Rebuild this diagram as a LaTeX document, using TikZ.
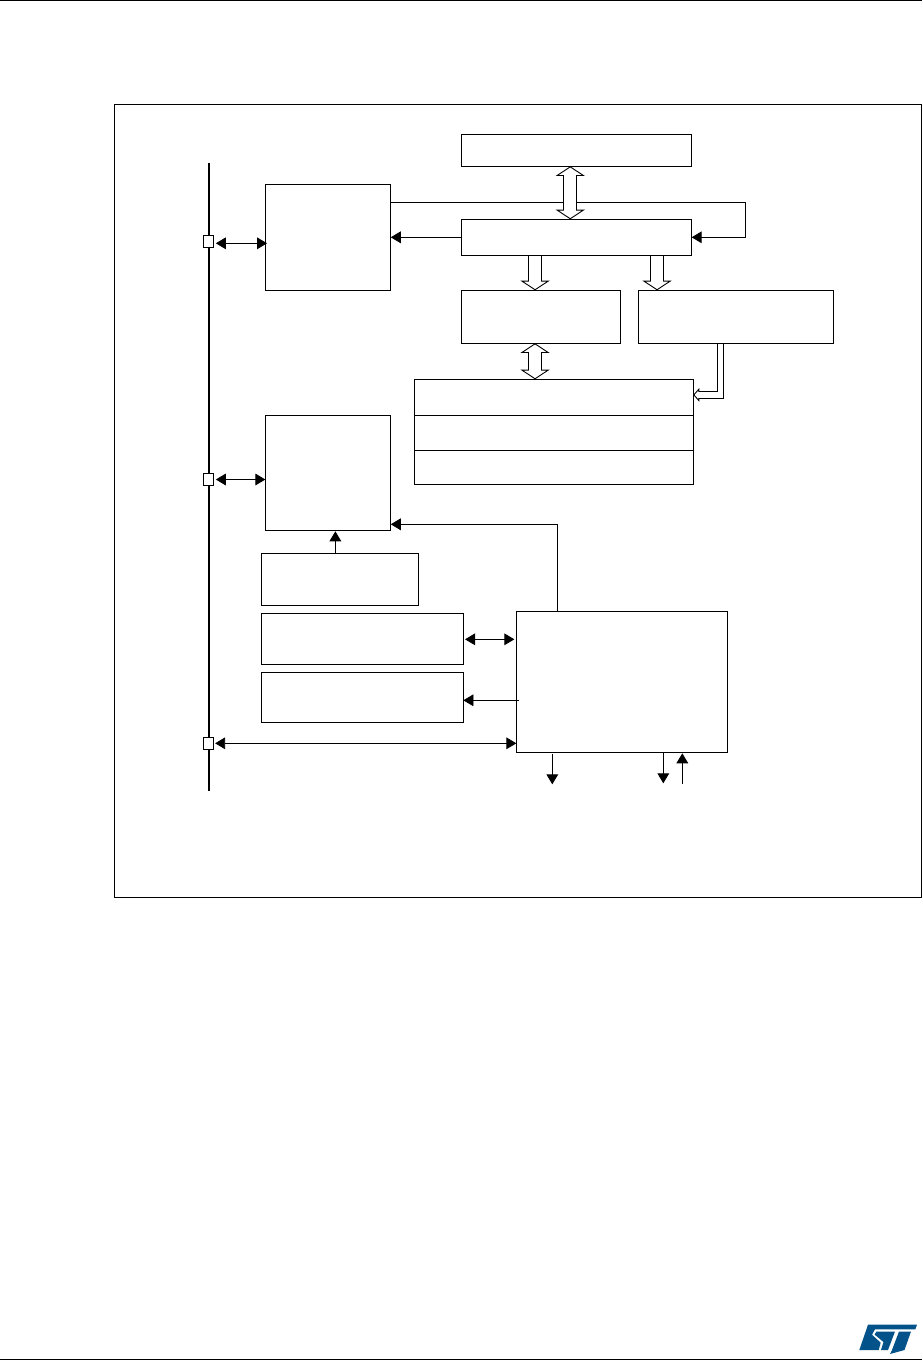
\documentclass[tikz,border=0pt]{standalone}
\usepackage{xcolor}
\usetikzlibrary{arrows.meta, positioning, calc}
\definecolor{logoblue}{HTML}{03528A}

\begin{document}
\begin{tikzpicture}[
  x=1pt, y=-1pt,
  box/.style={draw, line width=0.9pt, inner sep=0pt, outer sep=0pt, fill=white},
  wh/.style 2 args={minimum width=#1pt, minimum height=#2pt},
  pad/.style={box, wh={10.5}{12.2}},
  arr/.style={line width=0.9pt, -{Triangle[length=10pt,width=11.7pt]}},
  biarr/.style={line width=0.9pt, {Triangle[length=10pt,width=11.7pt]}-{Triangle[length=10pt,width=11.7pt]}},
  hollow/.style={line width=13.9pt, -{Triangle[fill=white,length=9.6pt,width=29pt,line width=0.9pt]},
                 postaction={draw=white, line width=12.1pt, -, shorten <=0.45pt, shorten >=6.5pt}},
  bihollow/.style={line width=13.9pt,
                 {Triangle[fill=white,length=9.6pt,width=29pt,line width=0.9pt]}-{Triangle[fill=white,length=9.6pt,width=29pt,line width=0.9pt]},
                 postaction={draw=white, line width=12.1pt, -, shorten <=6.5pt, shorten >=6.5pt}},
  benthollow/.style={line width=7.4pt, -{Triangle[fill=white,length=6pt,width=13.5pt,line width=0.9pt]},
                 postaction={draw=white, line width=5.6pt, -, shorten <=0.45pt, shorten >=4pt}},
]
\useasboundingbox (0,0) rectangle (922,1361);
% page rules
\draw[line width=1.1pt] (0,0.5) -- (922,0.5);
\draw[line width=1.2pt] (0,1359.4) -- (922,1359.4);

\node[box, wh={807.4}{793}] (frame) at (518,500.8) {};

% bus
\coordinate (bustop) at (209,163);
\coordinate (busbot) at (209,790.7);
\draw[line width=2pt] (bustop) -- (busbot);
\node[pad] (pada) at (208.6,241.3) {};
\node[pad] (padb) at (208.6,479.5) {};
\node[pad] (padc) at (208.6,743.3) {};

% upper blocks
\node[box, wh={230.6}{32.3}] (mem) at (576.35,150.15) {};
\node[box, wh={230.6}{36}, below=53pt of mem] (ctrl) {};
\node[box, wh={125.4}{106}, left=70.3pt of ctrl] (upperleft) {};
\node[box, wh={159.3}{53}, below right=35pt and 0pt of ctrl.south west] (midleft) {};
\node[box, wh={195.4}{53}, right=18pt of midleft] (midright) {};
\node[box, wh={279}{35.7}, below right=36pt and -46.8pt of midleft.south west] (stacka) {};
\node[box, wh={279}{35}, below=0pt of stacka] (stackb) {};
\node[box, wh={279}{34}, below=0pt of stackb] (stackc) {};

% lower blocks
\node[box, wh={125.4}{115.3}, below=124.7pt of upperleft] (lowerleft) {};
\node[box, wh={157.4}{52}, below right=23pt and -4pt of lowerleft.south west] (blocke) {};
\node[box, wh={202}{51}, below right=8pt and 0pt of blocke.south west] (blockf) {};
\node[box, wh={202}{50}, below right=8pt and 0pt of blockf.south west] (blockg) {};
\node[box, wh={211}{141}, below right=-2pt and 53pt of blockf.north east] (core) {};

% free ends below the core
\coordinate (outa) at (552.3,784.3);
\coordinate (outb) at (663.3,783.3);
\coordinate (ina) at (682.3,783.7);

% hollow connectors
\draw[arr] ([yshift=35pt]upperleft.east) -- ++(355,0) |- (ctrl.east);
\draw[bihollow] ([xshift=-6.1pt]mem.south) -- ([xshift=-6.1pt]ctrl.north);
\draw[hollow] ([xshift=-5.65pt]midleft.north |- ctrl.south) -- ([xshift=-5.65pt]midleft.north);
\draw[hollow] ([xshift=-79pt]midright.north |- ctrl.south) -- ([xshift=-79pt]midright.north);
\draw[bihollow] ([xshift=-5.65pt]midleft.south) -- ([xshift=-5.65pt]midleft.south |- stacka.north);
\draw[benthollow] ([xshift=-15.5pt]midright.south) |- ([yshift=2.3pt]stacka.east);

% plain connectors
\draw[arr] (ctrl.west) -- (upperleft.east |- ctrl.west);
\draw[biarr, shorten <=2pt, shorten >=-1.7pt] ([yshift=-2pt]pada.east) -- (upperleft.west |- 0,243.3);
\draw[biarr, shorten <=2pt] (padb.east) -- (lowerleft.west |- padb.east);
\draw[biarr, shorten <=1.3pt] (padc.east) -- (core.west |- padc.east);
\draw[arr] ([xshift=-4.7pt]blocke.north) -- ([xshift=-4.7pt,yshift=-1pt]blocke.north |- lowerleft.south);
\draw[arr] ([xshift=-64.5pt]core.north) |- ([yshift=6pt]lowerleft.south east);
\draw[biarr, shorten <=1.7pt, shorten >=2pt] (blockf.east |- 0,639.3) -- (core.west |- 0,639.3);
\draw[-{Triangle[length=10pt,width=11.7pt]}, line width=0.7pt] ([xshift=2.7pt]core.west |- 0,700.3) -- (blockg.east |- 0,700.3);
\draw[arr, shorten <=1.7pt] (core.south -| outa) -- (outa);
\draw[arr] (core.south -| outb) -- (outb);
\draw[arr, shorten >=1pt] (ina) -- (core.south -| ina);

% logo
\fill[logoblue] (868,1324.7) -- (917,1324.7) -- (915.3,1329.3) -- (875,1329.3) -- (872,1334.7)
  -- (880.7,1342.7) -- (878.7,1350) -- (859.3,1350) -- cycle;
\fill[logoblue] (876.5,1331.5) -- (895,1331.5) -- (888,1350) -- (881,1350) -- (883.5,1342) -- (874.5,1334.5) -- cycle;
\fill[logoblue] (899,1331.5) -- (911,1331.5) -- (904.5,1350) -- (890,1354) -- (892,1350) -- cycle;
\end{tikzpicture}
\end{document}
